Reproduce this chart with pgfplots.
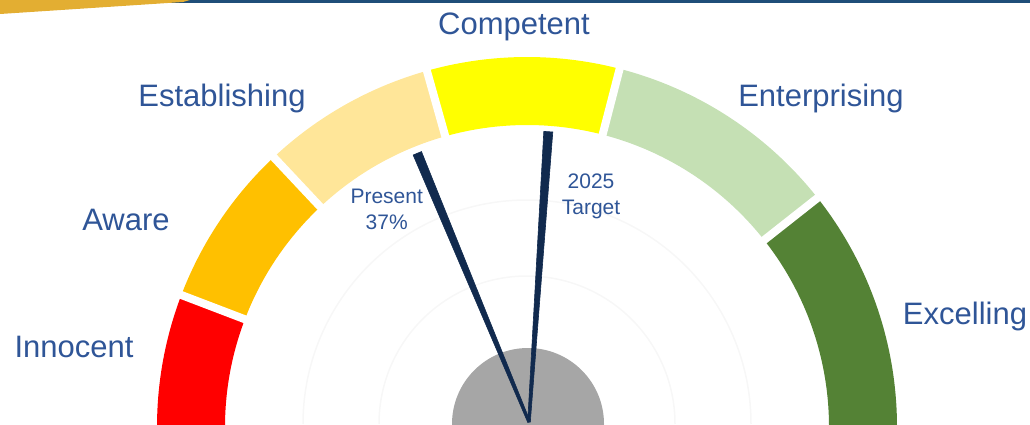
\documentclass[border=0pt]{standalone}
\usepackage{pgfplots}
\pgfplotsset{compat=1.18}
\usepackage{fontspec}
\setmainfont{Liberation Sans}
\definecolor{cRed}{HTML}{FF0000}
\definecolor{cOrange}{HTML}{FFC000}
\definecolor{cLightYellow}{HTML}{FFE699}
\definecolor{cYellow}{HTML}{FFFF00}
\definecolor{cLightGreen}{HTML}{C5E0B4}
\definecolor{cDarkGreen}{HTML}{548235}
\definecolor{textblue}{HTML}{2F5597}
\definecolor{needle}{HTML}{112A4E}
\definecolor{gaugegray}{HTML}{A6A6A6}
\definecolor{gold}{HTML}{E3AE32}
\definecolor{bannerblue}{HTML}{1F4E79}
\definecolor{faint}{HTML}{F7F7F7}
% annular sector: colour, start angle, end angle
\newcommand{\sector}[3]{\fill[#1] (axis cs:{527+370*cos(#2)},{-3+370*sin(#2)}) arc[start angle=#2,end angle=#3,radius=370pt] -- (axis cs:{527+302*cos(#3)},{-3+302*sin(#3)}) arc[start angle=#3,end angle=#2,radius=302pt] -- cycle;}
\newcommand{\sgap}[1]{\draw[white,line width=8pt] (axis cs:{527+290*cos(#1)},{-3+290*sin(#1)}) -- (axis cs:{527+385*cos(#1)},{-3+385*sin(#1)});}
\newcommand{\bigfont}{\fontsize{31}{31}\selectfont}
\newcommand{\smallfont}{\fontsize{21}{21}\selectfont}
\begin{document}
\begin{tikzpicture}
\begin{axis}[x=1pt,y=1pt,xmin=0,xmax=1030,ymin=0,ymax=424,hide axis,clip=true]
% banner
\addplot[fill=bannerblue,draw=none] coordinates {(165,424)(1030,424)(1030,420.5)(165,420.5)} -- cycle;
\addplot[fill=gold,draw=none] coordinates {(0,424)(190,424)(183,422)(0,410)} -- cycle;
% faint guide arcs
\draw[faint,line width=1.5pt] (axis cs:{527+148},0) arc[start angle=0,end angle=180,radius=148pt];
\draw[faint,line width=1.5pt] (axis cs:{527+224},0) arc[start angle=0,end angle=180,radius=224pt];
% gauge segments (boundary angles)
\sector{cRed}{185}{159.1}
\sector{cOrange}{159.1}{133.2}
\sector{cLightYellow}{133.2}{105.7}
\sector{cYellow}{105.7}{75.5}
\sector{cLightGreen}{75.5}{38.25}
\sector{cDarkGreen}{38.25}{-5}
\sgap{159.1}
\sgap{133.2}
\sgap{105.7}
\sgap{75.5}
\sgap{38.25}
% hub
\fill[gaugegray] (axis cs:528,0) circle[radius=76pt];
% needles
\addplot[fill=needle,draw=needle,line width=0.6pt] coordinates {(527.8,1.5)(530.2,2.5)(421.46,272.43)(413.14,268.97)} -- cycle;
\addplot[fill=needle,draw=needle,line width=0.6pt] coordinates {(527.7,2.09)(530.3,1.91)(552.79,292.0)(543.81,292.6)} -- cycle;
% labels
\node[anchor=base,text=textblue,font=\bigfont] at (axis cs:514,389) {Competent};
\node[anchor=base,text=textblue,font=\bigfont] at (axis cs:222,318) {Establishing};
\node[anchor=base,text=textblue,font=\bigfont] at (axis cs:821,318) {Enterprising};
\node[anchor=base,text=textblue,font=\bigfont] at (axis cs:126,194) {Aware};
\node[anchor=base,text=textblue,font=\bigfont] at (axis cs:74,67) {Innocent};
\node[anchor=base,text=textblue,font=\bigfont] at (axis cs:965,100) {Excelling};
\node[anchor=base,text=textblue,font=\smallfont] at (axis cs:386.7,220.7) {Present};
\node[anchor=base,text=textblue,font=\smallfont] at (axis cs:386.7,194.7) {37\%};
\node[anchor=base,text=textblue,font=\smallfont] at (axis cs:591,235.7) {2025};
\node[anchor=base,text=textblue,font=\smallfont] at (axis cs:591,210) {Target};
\end{axis}
\end{tikzpicture}
\end{document}
